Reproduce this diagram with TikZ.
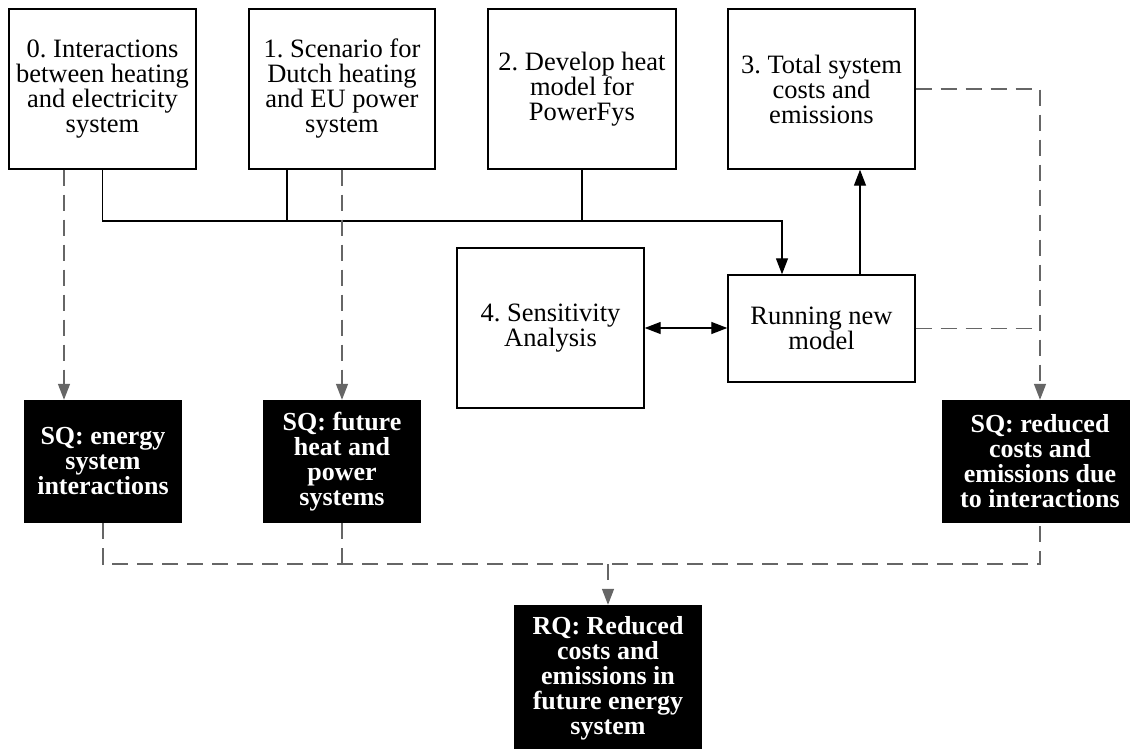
\documentclass[tikz,border=0pt]{standalone}
\usepackage{fontspec}
\setmainfont{Liberation Serif}
\usetikzlibrary{arrows.meta}
\definecolor{linkgray}{HTML}{666666}
\frenchspacing

\begin{document}
\begin{tikzpicture}[x=1pt, y=-1pt,
    >={Triangle[length=16pt, width=12pt]},
    module/.style={rectangle, draw, line width=1.4pt, fill=white, align=center, minimum width=187pt, minimum height=160pt, inner sep=0pt, font=\fontsize{26.5}{25}\selectfont},
    question/.style={rectangle, fill=black, text=white, align=center, minimum width=158pt, minimum height=123pt, inner sep=0pt, font=\fontsize{26}{25}\selectfont\bfseries},
    flow/.style={line width=1.3pt, ->},
    link/.style={line width=1.4pt, draw=linkgray, dash pattern=on 16pt off 9pt, ->}
]
\useasboundingbox (0,0) rectangle (1130,749);
\clip (0,0) rectangle (1130,749);

% Top level
\node[module] (interactions) at (102.5,89) {0. Interactions \\ between heating \\ and electricity \\ system};
\node[module, minimum width=186pt] (scenario) at (342,89) {1. Scenario for \\ Dutch heating \\ and EU power \\ system};
\node[module, minimum width=188pt] (heatmodel) at (582,89) {2. Develop heat \\ model for \\ PowerFys};
\node[module] (totalcost) at (821.5,89) {3. Total system \\ costs and \\ emissions};

% Model level
\node[module] (sensitivity) at (550.5,328) {4. Sensitivity \\ Analysis};
\node[module, minimum height=107pt] (running) at (821.5,328.5) {Running new \\ model};

% Sub questions
\node[question] (sqinter) at (103,461.5) {SQ: energy \\ system \\ interactions};
\node[question] (sqfuture) at (342,461.5) {SQ: future \\ heat and \\ power \\ systems};
\node[question, minimum width=196pt] (sqreduced) at (1040,461.5) {SQ: reduced \\ costs and \\ emissions due \\ to interactions};

% Research question
\node[question, minimum width=188pt, minimum height=146pt] (rq) at (608,678) {RQ: Reduced \\ costs and \\ emissions in \\ future energy \\ system};

% Solid arrows
\coordinate (bus) at (782,221);
\draw[flow] (interactions.south) |- (bus) -- (bus |- running.north);
\draw[flow, -] ([xshift=-55pt]scenario.south) -- ([xshift=-55pt]scenario.south |- bus);
\draw[flow, -] (heatmodel.south) -- (heatmodel.south |- bus);
\draw[flow] ([xshift=38.5pt]running.north) -- ([xshift=38.5pt]totalcost.south);
\draw[flow, <->] (sensitivity.east) -- (sensitivity.east -| running.west);

% Dashed arrows
\draw[link] ([xshift=-38.5pt]interactions.south) -- ([xshift=-38.5pt]interactions.south |- sqinter.north);
\draw[link] (scenario.south) -- (sqfuture.north);
\draw[link] (totalcost.east) -| (sqreduced.north);
\draw[link, -] (running.east) -- (running.east -| sqreduced.north);

% Merge into research question
\coordinate (merge) at (608,564);
\draw[link, -] (sqinter.south) |- (merge -| sqreduced.south) -- (sqreduced.south);
\draw[link, -] (sqfuture.south) -- (sqfuture.south |- merge);
\draw[link] (merge) -- (rq.north);

\end{tikzpicture}
\end{document}
